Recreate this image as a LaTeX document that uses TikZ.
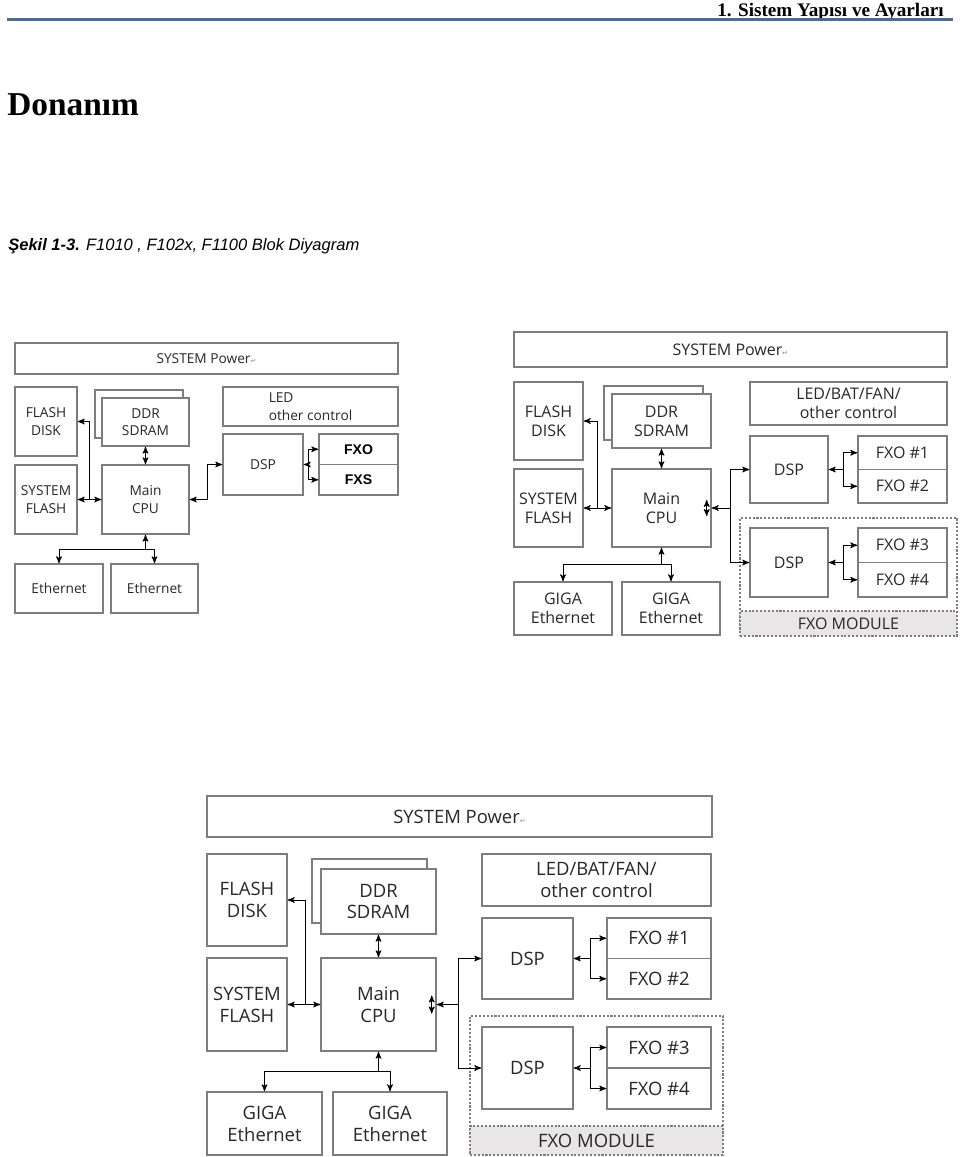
\documentclass[tikz,border=0pt]{standalone}
\usepackage{fontspec}
\setmainfont{Liberation Serif}
\setsansfont{Open Sans}
\newfontfamily\capfont{Liberation Sans}
\newfontfamily\symfont{DejaVu Sans}
\usepackage{tikz}
\usetikzlibrary{positioning, arrows}
\definecolor{headblue}{RGB}{74,106,152}
\definecolor{boxgray}{RGB}{125,125,125}
\definecolor{txtgray}{RGB}{40,40,40}
\definecolor{modgray}{RGB}{232,230,230}
\tikzset{
>=stealth', % small filled arrow heads
cell/.style n args={4}{minimum width={(#3-#1)*0.02cm}, minimum height={(#4-#2)*0.02cm}, at={({(#1+#3)/2},{(#2+#4)/2})}}, % box from corner (#1,#2) to corner (#3,#4), in pixels
blk/.style={draw=boxgray, line width=0.8pt, fill=white, inner sep=0pt, align=center, text=txtgray}, % every block of the diagrams
modframe/.style={draw=boxgray, line width=0.7pt, dash pattern=on 1.2pt off 1pt, inner sep=0pt}, % dotted FXO module outline
modbar/.style={modframe, fill=modgray, text=txtgray}, % grey name bar of the module
bus/.style={line width=0.5pt}, % connectors
d1/.style={font=\sffamily\fontsize{7.8}{10}\selectfont}, % text size, F1010
d2/.style={font=\sffamily\fontsize{9.1}{10.8}\selectfont}, % text size, F102x
d3/.style={font=\sffamily\fontsize{10.5}{12.5}\selectfont}, % text size, F1100
}
\newcommand{\retmark}{{\symfont\fontsize{4}{4}\selectfont\color{black!45}↵}}

\begin{document}
\begin{tikzpicture}[x=0.02cm, y=-0.02cm]
                \fill[white] (0,0) rectangle (960,1157);
                \useasboundingbox (0,0) rectangle (960,1157);

                % page header
                \node[anchor=base east, inner sep=0pt, font=\bfseries\fontsize{10.9}{12}\selectfont] (hdr) at (944,16) {1. Sistem Yapısı ve Ayarları};
                \draw[headblue, line width=1.7pt] (7,19.5) -- (953,19.5);
                \node[anchor=base west, inner sep=0pt, font=\bfseries\fontsize{19}{22}\selectfont] (ttl) at (7,115) {Donanım};
                \node[anchor=base west, inner sep=0pt, font=\capfont\itshape\fontsize{9.4}{11}\selectfont] (cap) at (8,250) {{\bfseries Şekil 1-3.} F1010 , F102x, F1100 Blok Diyagram};

                % F1010
                \node[blk, d1, cell={15}{343}{398}{374}] (pw1) {SYSTEM Power\retmark};
                \node[blk, d1, cell={15}{387}{77}{456}] (fd1) {FLASH\\DISK};
                \node[blk, d1, cell={15}{465}{77}{534}] (sf1) {SYSTEM\\FLASH};
                \node[blk, cell={95}{390}{183}{438}] (ddb1) {};
                \node[blk, d1, cell={102}{398}{189}{446}] (dd1) {DDR\\SDRAM};
                \node[blk, d1, cell={102}{465}{189}{534}] (cpu1) {Main\\CPU};
                \node[blk, d1, align=left, cell={223}{387}{398}{426}] (led1) {LED\\other control};
                \node[blk, d1, cell={223}{434}{303}{495}] (dsp1) {DSP};
                \node[blk, font=\capfont\bfseries\fontsize{8}{9}\selectfont, text=black, cell={319}{434}{398}{464.5}] (fxo1) {FXO};
                \node[blk, font=\capfont\bfseries\fontsize{8}{9}\selectfont, text=black, cell={319}{464.5}{398}{495}] (fxs1) {FXS};
                \node[blk, d1, cell={15}{564}{103}{613}] (eth1a) {Ethernet};
                \node[blk, d1, cell={111}{564}{198}{613}] (eth1b) {Ethernet};

                \coordinate (j1) at (89,499.5);
                \coordinate (j2) at (207,499.5);
                \coordinate (j3) at (308,464.5);
                \coordinate (j4) at (145.5,549);
                \draw[bus, <->] (sf1) -- (cpu1);
                \draw[bus, ->] (j1) |- (fd1);
                \draw[bus, <->] (dd1) -- (cpu1);
                \draw[bus, <->] (cpu1) -- (j2) |- (dsp1);
                \draw[bus, ->] (j3) -- (dsp1);
                \draw[bus, ->] (j3) |- (fxo1);
                \draw[bus, ->] (j3) |- (fxs1);
                \draw[bus, ->] (j4) -- (cpu1);
                \draw[bus, ->] (j4) -| (eth1a);
                \draw[bus, ->] (j4) -| (eth1b);

                % F102x
                \node[blk, d2, cell={514}{332}{947}{367}] (pw2) {SYSTEM Power\retmark};
                \node[blk, d2, cell={514}{382}{583}{460}] (fd2) {FLASH\\DISK};
                \node[blk, d2, cell={514}{469}{583}{547}] (sf2) {SYSTEM\\FLASH};
                \node[blk, cell={604}{386}{703}{440}] (ddb2) {};
                \node[blk, d2, cell={612}{394}{711}{448}] (dd2) {DDR\\SDRAM};
                \node[blk, d2, cell={612}{469}{711}{547}] (cpu2) {Main\\CPU};
                \node[blk, d2, cell={750}{382}{947}{425}] (led2) {LED/BAT/FAN/\\other control};
                \node[modframe, cell={740}{518}{957}{636}] (mod2) {};
                \node[modbar, d2, cell={740}{611}{957}{636}] (mbar2) {FXO MODULE};
                \node[blk, d2, cell={750}{436}{828}{503}] (dsp2a) {DSP};
                \node[blk, d2, cell={858}{436}{947}{469.5}] (fx2a) {FXO \#1};
                \node[blk, d2, cell={858}{469.5}{947}{503}] (fx2b) {FXO \#2};
                \node[blk, d2, cell={750}{528}{828}{597}] (dsp2b) {DSP};
                \node[blk, d2, cell={858}{528}{947}{562.5}] (fx2c) {FXO \#3};
                \node[blk, d2, cell={858}{562.5}{947}{597}] (fx2d) {FXO \#4};
                \node[blk, d2, cell={514}{582}{612}{635}] (ge2a) {GIGA\\Ethernet};
                \node[blk, d2, cell={622}{582}{720}{635}] (ge2b) {GIGA\\Ethernet};

                \coordinate (j5) at (597,508);
                \coordinate (j6) at (730,508);
                \coordinate (j7) at (843,469.5);
                \coordinate (j8) at (843,562.5);
                \coordinate (j9) at (661.5,564);
                \draw[bus, <->] (sf2) -- (cpu2);
                \draw[bus, ->] (j5) |- (fd2);
                \draw[bus, <->] (dd2) -- (cpu2);
                \draw[bus, <->] ([shift={(-5,-8)}]cpu2.east) -- ([shift={(-5,8)}]cpu2.east);
                \draw[bus, ->] (j6) -- (cpu2);
                \draw[bus, ->] (j6) |- (dsp2a);
                \draw[bus, ->] (j6) |- (dsp2b);
                \draw[bus, ->] (j7) -- (dsp2a);
                \draw[bus, ->] (j7) |- (fx2a);
                \draw[bus, ->] (j7) |- (fx2b);
                \draw[bus, ->] (j8) -- (dsp2b);
                \draw[bus, ->] (j8) |- (fx2c);
                \draw[bus, ->] (j8) |- (fx2d);
                \draw[bus, ->] (j9) -- (cpu2);
                \draw[bus, ->] (j9) -| (ge2a);
                \draw[bus, ->] (j9) -| (ge2b);

                % F1100
                \node[blk, d3, cell={207}{796}{712}{837}] (pw3) {SYSTEM Power\retmark};
                \node[blk, d3, cell={207}{854}{287}{946}] (fd3) {FLASH\\DISK};
                \node[blk, d3, cell={207}{958}{287}{1051}] (sf3) {SYSTEM\\FLASH};
                \node[blk, cell={312}{859}{427}{923}] (ddb3) {};
                \node[blk, d3, cell={321}{869}{436}{934}] (dd3) {DDR\\SDRAM};
                \node[blk, d3, cell={321}{958}{436}{1051}] (cpu3) {Main\\CPU};
                \node[blk, d3, cell={482}{854}{711}{906}] (led3) {LED/BAT/FAN/\\other control};
                \node[modframe, cell={470}{1016}{723}{1155}] (mod3) {};
                \node[modbar, d3, cell={470}{1126}{723}{1155}] (mbar3) {FXO MODULE};
                \node[blk, d3, cell={482}{918}{573}{999}] (dsp3a) {DSP};
                \node[blk, d3, cell={607}{918}{711}{958.5}] (fx3a) {FXO \#1};
                \node[blk, d3, cell={607}{958.5}{711}{999}] (fx3b) {FXO \#2};
                \node[blk, d3, cell={482}{1027}{573}{1109}] (dsp3b) {DSP};
                \node[blk, d3, cell={607}{1027}{711}{1068}] (fx3c) {FXO \#3};
                \node[blk, d3, cell={607}{1068}{711}{1109}] (fx3d) {FXO \#4};
                \node[blk, d3, cell={207}{1092}{322}{1155}] (ge3a) {GIGA\\Ethernet};
                \node[blk, d3, cell={333}{1092}{447}{1155}] (ge3b) {GIGA\\Ethernet};

                \coordinate (j10) at (305,1004.5);
                \coordinate (j11) at (458,1004.5);
                \coordinate (j12) at (590,958.5);
                \coordinate (j13) at (590,1068);
                \coordinate (j14) at (378.5,1071);
                \draw[bus, <->] (sf3) -- (cpu3);
                \draw[bus, ->] (j10) |- (fd3);
                \draw[bus, <->] (dd3) -- (cpu3);
                \draw[bus, <->] ([shift={(-5,-9)}]cpu3.east) -- ([shift={(-5,9)}]cpu3.east);
                \draw[bus, ->] (j11) -- (cpu3);
                \draw[bus, ->] (j11) |- (dsp3a);
                \draw[bus, ->] (j11) |- (dsp3b);
                \draw[bus, ->] (j12) -- (dsp3a);
                \draw[bus, ->] (j12) |- (fx3a);
                \draw[bus, ->] (j12) |- (fx3b);
                \draw[bus, ->] (j13) -- (dsp3b);
                \draw[bus, ->] (j13) |- (fx3c);
                \draw[bus, ->] (j13) |- (fx3d);
                \draw[bus, ->] (j14) -- (cpu3);
                \draw[bus, ->] (j14) -| (ge3a);
                \draw[bus, ->] (j14) -| (ge3b);
\end{tikzpicture}
\end{document}
